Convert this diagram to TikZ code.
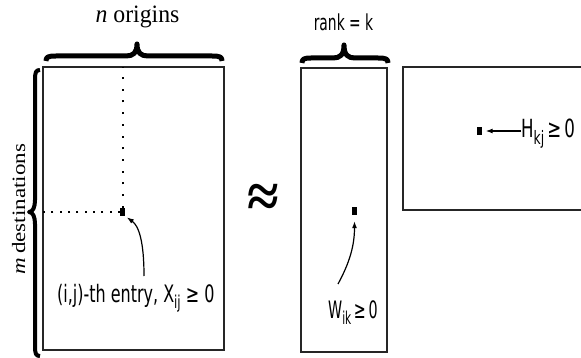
\documentclass[tikz,border=0pt]{standalone}
\usepackage{fontspec}
\usepackage{graphicx}
\setmainfont{Liberation Serif}
\newfontfamily\lblfont{DejaVu Sans Condensed}
\usetikzlibrary{arrows.meta}
\newcommand\lowsub[1]{\raisebox{-0.26em}{\scalebox{0.74}{#1}}}
\tikzset{
  mat/.style={draw=black!85, line width=1.3pt, inner sep=0pt, outer sep=0pt},
  entry/.style={fill=black, inner sep=0pt, minimum width=5pt, minimum height=8pt},
  curly/.style={line width=5pt, line cap=butt, line join=round},
  lbl/.style={inner sep=0pt, font=\lblfont},
  ptr/.style={line width=1.2pt, -{Latex[length=7pt,width=5pt]}},
  dots/.style={line width=2pt},
}
\begin{document}
\begin{tikzpicture}[x=1pt, y=-1pt]
\useasboundingbox (0,0) rectangle (581,358);

% the three matrices
\node[mat, minimum width=181pt, minimum height=283pt] (X) at (133.5,208.5) {};
\node[mat, minimum width=86pt, minimum height=284pt] (W) at (344,210) {};
\node[mat, minimum width=180pt, minimum height=143pt] (H) at (493,138.5) {};

% single entries
\node[entry] (xs) at (122.5,212) {};
\node[entry] (ws) at (354.5,211) {};
\node[entry] (hs) at (479,131) {};

% row and column guides of the X entry
\draw[dots, dash pattern=on 2pt off 9.7pt] (xs.north) -- (xs |- X.north);
\draw[dots, dash pattern=on 2pt off 6.3pt] (xs.west) -- (X.west |- xs);

% braces
\draw[curly] (46,61) .. controls (46,57) and (48,56) .. (56,56) -- (126,56)
  .. controls (133,56) and (137,53) .. (137,44)
  .. controls (137,53) and (141,56) .. (148,56) -- (212,56)
  .. controls (220,56) and (222,57) .. (222,61);
\draw[curly] (302,63) .. controls (302,59) and (304,58) .. (311,58) -- (333,58)
  .. controls (340,58) and (344,55) .. (344,45)
  .. controls (344,55) and (348,58) .. (355,58) -- (378,58)
  .. controls (386,58) and (388,59) .. (388,63);
\draw[curly, line width=4pt] (40,70) .. controls (36,70) and (35,72) .. (35,80) -- (35,200)
  .. controls (35,207) and (33,212) .. (29,212)
  .. controls (33,212) and (35,217) .. (35,224) -- (35,346)
  .. controls (35,354) and (36,356) .. (40,356);

% axis captions
\node[inner sep=0pt, anchor=base, font=\fontsize{25}{25}\selectfont] (ncap) at (137.5,23) {\scalebox{0.95}[1]{\textit{n} origins}};
\node[inner sep=0pt, anchor=base, rotate=90, font=\fontsize{23}{23}\selectfont] (mcap) at (25,209)
  {\scalebox{1}[0.82]{\textit{m}\,destinations}};
\node[lbl, anchor=base, font=\lblfont\fontsize{22}{22}\selectfont] (rk) at (343.5,31) {\scalebox{0.7}[1]{rank = k}};

% approximately equal
\node[inner sep=0pt, font=\fontsize{48}{48}\selectfont\bfseries] (approx) at (263,201) {\scalebox{1.2}[1.3]{≈}};

% entry labels
\node[lbl, anchor=base west, font=\lblfont\fontsize{24}{24}\selectfont] (xt) at (57,302)
  {\scalebox{0.74}[1]{(i,j)-th entry, X\lowsub{ij} ≥ 0}};
\node[lbl, anchor=base west, font=\lblfont\fontsize{24}{24}\selectfont] (wt) at (328,318)
  {\scalebox{0.66}[1]{W\lowsub{ik}\,≥\,0}};
\node[lbl, anchor=base west, font=\lblfont\fontsize{25}{25}\selectfont] (ht) at (521,138)
  {\scalebox{0.74}[1]{H\lowsub{kj}\,≥\,0}};

% pointers
\coordinate (xa) at (144,276);
\coordinate (wa) at (338,284);
\draw[ptr, shorten >=2pt] (xa) .. controls (144,242) and (139,226) .. (xs.south east);
\draw[ptr, shorten >=6pt] (wa) .. controls (350,262) and (354.5,245) .. (ws.south);
\draw[ptr, shorten >=4pt] (ht.west |- hs) -- (hs.east);
\end{tikzpicture}
\end{document}
